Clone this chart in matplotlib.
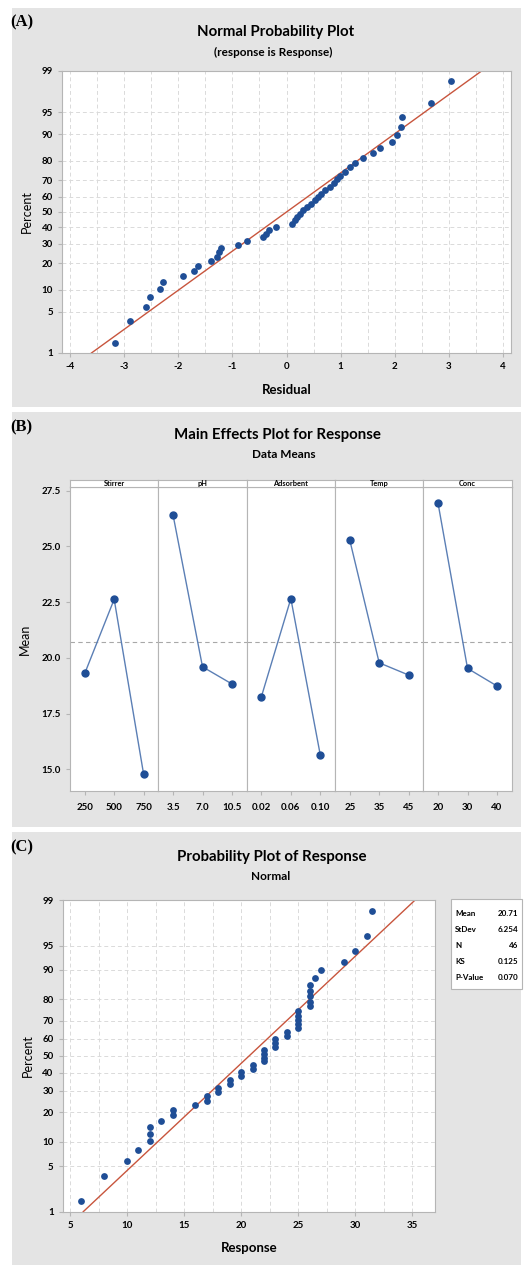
import matplotlib
matplotlib.use('Agg')
import matplotlib.pyplot as plt
from matplotlib.patches import Rectangle
from statistics import NormalDist
import numpy as np

plt.rcParams['font.family'] = ['Lato', 'DejaVu Sans']

# ---- data ----
# (A) residuals, sorted
resid_a = [-3.17, -2.90, -2.60, -2.53, -2.34, -2.29, -1.91, -1.71, -1.63, -1.40,
           -1.28, -1.25, -1.22, -0.90, -0.73, -0.43, -0.38, -0.33, -0.20, 0.10,
           0.15, 0.19, 0.25, 0.31, 0.37, 0.45, 0.52, 0.58, 0.64, 0.72,
           0.81, 0.87, 0.93, 0.99, 1.08, 1.18, 1.27, 1.41, 1.60, 1.72,
           1.95, 2.05, 2.12, 2.13, 2.67, 3.05]
resid_mu = 0.0
resid_sd = 1.55

# (B) main effects
factors = ['Stirrer', 'pH', 'Adsorbent', 'Temp', 'Conc']
levels = [['250', '500', '750'], ['3.5', '7.0', '10.5'], ['0.02', '0.06', '0.10'],
          ['25', '35', '45'], ['20', '30', '40']]
means = [[19.30, 22.63, 14.78], [26.41, 19.60, 18.83], [18.26, 22.66, 15.64],
         [25.29, 19.78, 19.23], [26.93, 19.53, 18.74]]
grand_mean = 20.71

# (C) response values, sorted
response = [6, 8, 10, 11, 12, 12, 12, 13, 14, 14, 16, 17, 17, 18, 18, 19, 19, 20, 20,
            21, 21, 22, 22, 22, 22, 23, 23, 23, 24, 24, 25, 25, 25, 25, 25,
            26, 26, 26, 26, 26, 26.5, 27, 29, 30, 31, 31.5]
stat_names = ['Mean', 'StDev', 'N', 'KS', 'P-Value']
stat_values = ['20.71', '6.254', '46', '0.125', '0.070']
resp_mu = 20.71
resp_sd = 6.254

pct_ticks = [1, 5, 10, 20, 30, 40, 50, 60, 70, 80, 90, 95, 99]

# ---- helpers ----
W, H = 527, 1265
nd = NormalDist()
def zq(p):
    return nd.inv_cdf(p / 100.0)

fig = plt.figure(figsize=(W / 100, H / 100), dpi=100)

def add_ax(l, t, r, b):
    return fig.add_axes([l / W, 1 - b / H, (r - l) / W, (b - t) / H])

def ft(x, y, s, **kw):
    return fig.text(x / W, 1 - y / H, s, **kw)

GRAY = '#e4e4e4'
DOT = '#1f4e96'
FIT = '#c8553d'
GRID = '#dadada'
SPINE = '#b5b5b5'

for top, bot in [(8, 407), (412, 827), (832, 1265)]:
    fig.add_artist(Rectangle((12 / W, 1 - bot / H), (521 - 12) / W, (bot - top) / H,
                             transform=fig.transFigure, facecolor=GRAY, edgecolor='none', zorder=0))

def style_prob_axis(ax):
    ax.set_yticks([zq(p) for p in pct_ticks])
    ax.set_yticklabels([str(p) for p in pct_ticks])
    ax.set_ylim(zq(1), zq(99))
    ax.grid(True, which='both', color=GRID, linestyle=(0, (4, 3)), lw=0.7)
    ax.set_axisbelow(True)
    for s in ax.spines.values():
        s.set_color(SPINE)
    ax.tick_params(which='both', length=3, color=SPINE, labelsize=7)
    ax.tick_params(which='minor', length=0)
    for lab in ax.get_xticklabels() + ax.get_yticklabels():
        lab.set_fontweight('bold')

def prob_positions(n):
    return [zq((i + 1 - 0.3) / (n + 0.4) * 100) for i in range(n)]

label_font = dict(family=['Liberation Serif'], fontweight='bold', fontsize=12)

# ---- (A) ----
ft(10, 22, '(A)', va='center', ha='left', **label_font)
ft(276, 32, 'Normal Probability Plot', ha='center', va='center', fontsize=10.8, fontweight='bold')
ft(273, 52, '(response is Response)', ha='center', va='center', fontsize=8.5, fontweight='bold')
axa = add_ax(62, 71, 511, 353)
zz = np.array([zq(1), zq(99)])
axa.plot(resid_mu + resid_sd * zz, zz, color=FIT, lw=1.0, zorder=2)
axa.scatter(resid_a, prob_positions(len(resid_a)), s=24, color=DOT, zorder=3, linewidths=0)
axa.set_xlim(-4.15, 4.15)
axa.set_xticks(range(-4, 5))
axa.set_xticks(np.arange(-4, 4.01, 0.5), minor=True)
axa.set_xticklabels([str(v) for v in range(-4, 5)])
style_prob_axis(axa)
axa.set_xlabel('Residual', fontsize=9.5, fontweight='bold', labelpad=9)
axa.set_ylabel('Percent', fontsize=9, labelpad=6)

# ---- (B) ----
ft(10, 427, '(B)', va='center', ha='left', **label_font)
ft(277, 435, 'Main Effects Plot for Response', ha='center', va='center', fontsize=10.8, fontweight='bold')
ft(284, 455, 'Data Means', ha='center', va='center', fontsize=8.5, fontweight='bold')
left, right = 70, 511.7
wsub = (right - left) / len(factors)
for k, name in enumerate(factors):
    l = left + k * wsub
    r = l + wsub
    ax = add_ax(l, 487, r, 790.7)
    ax.axhline(grand_mean, color='#a8a8a8', lw=0.8, linestyle=(0, (4, 3)), zorder=1)
    ax.plot(range(3), means[k], color='#5b7fb5', lw=1.0, marker='o', ms=5,
            mfc=DOT, mec=DOT, zorder=3)
    ax.set_xlim(-0.5, 2.5)
    ax.set_ylim(14.04, 27.67)
    ax.set_xticks(range(3))
    ax.set_xticklabels(levels[k])
    ax.set_yticks([15.0, 17.5, 20.0, 22.5, 25.0, 27.5])
    if k == 0:
        ax.set_yticklabels(['15.0', '17.5', '20.0', '22.5', '25.0', '27.5'])
        ax.set_ylabel('Mean', fontsize=9, labelpad=8)
        ax.tick_params(axis='y', length=3, color=SPINE, labelsize=7)
    else:
        ax.tick_params(axis='y', length=0, labelleft=False)
    ax.tick_params(axis='x', length=3, color=SPINE, labelsize=7, pad=6)
    for lab in ax.get_xticklabels() + ax.get_yticklabels():
        lab.set_fontweight('bold')
    for s in ax.spines.values():
        s.set_color(SPINE)
    st = add_ax(l, 480, r, 487)
    st.set_xticks([])
    st.set_yticks([])
    st.set_facecolor('white')
    for s in st.spines.values():
        s.set_color(SPINE)
    st.text(0.5, 0.45, name, ha='center', va='center', fontsize=5.3, fontweight='bold',
            transform=st.transAxes)

# ---- (C) ----
ft(10, 847, '(C)', va='center', ha='left', **label_font)
ft(272, 857, 'Probability Plot of Response', ha='center', va='center', fontsize=10.8, fontweight='bold')
ft(271, 876, 'Normal', ha='center', va='center', fontsize=8.5, fontweight='bold')
axc = add_ax(62.7, 900, 435, 1211.7)
axc.plot(resp_mu + resp_sd * zz, zz, color=FIT, lw=1.0, zorder=2)
axc.scatter(response, prob_positions(len(response)), s=24, color=DOT, zorder=3, linewidths=0)
axc.set_xlim(4.36, 37.0)
axc.set_xticks(range(5, 36, 5))
axc.set_xticks(np.arange(5, 37, 2.5), minor=True)
style_prob_axis(axc)
axc.set_xlabel('Response', fontsize=9.5, fontweight='bold', labelpad=9)
axc.set_ylabel('Percent', fontsize=9, labelpad=6)

fig.add_artist(Rectangle((451 / W, 1 - 989 / H), (522 - 451) / W, (989 - 899) / H,
                         transform=fig.transFigure, facecolor='white', edgecolor=SPINE, lw=0.8))
for j, (nm, val) in enumerate(zip(stat_names, stat_values)):
    y = 913 + j * 16
    ft(455, y, nm, ha='left', va='center', fontsize=5.8, fontweight='bold')
    ft(518, y, val, ha='right', va='center', fontsize=5.8, fontweight='bold')

fig.savefig('out.png', dpi=100)
